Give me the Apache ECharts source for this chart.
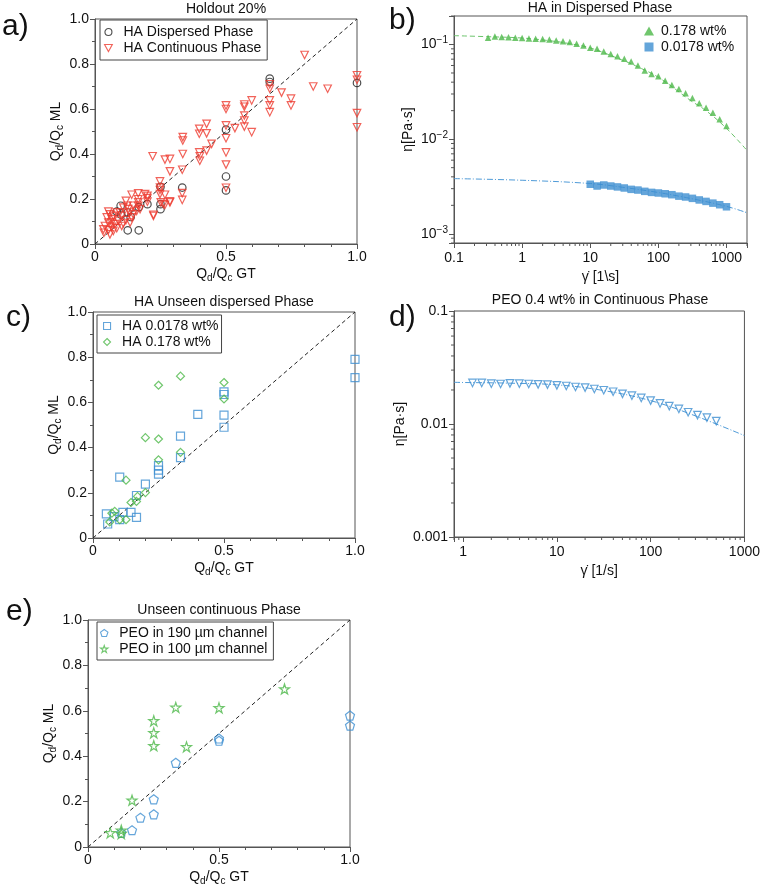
<!DOCTYPE html>
<html><head><meta charset="utf-8">
<script src="https://cdn.jsdelivr.net/npm/echarts@6/dist/echarts.min.js"></script>
<style>html,body{margin:0;padding:0;background:#fff}#c{width:763px;height:888px}</style>
</head><body><div id="c"></div>
<script>
// ---------- Panel a: Holdout 20% ----------
const aDispX = [0.098,0.125,0.167,0.136,0.2,0.25,0.25,0.25,0.333,0.5,0.5,0.5,0.667,0.667,1.0,0.1,0.167,0.083,0.125];
const aDispY = [0.17,0.061,0.061,0.12,0.177,0.254,0.155,0.177,0.251,0.30,0.238,0.508,0.735,0.72,0.716,0.13,0.164,0.144,0.14];
const aContX = [0.80,0.667,0.667,0.712,0.833,0.888,0.748,0.748,0.667,0.667,0.667,0.598,0.57,0.57,0.57,0.57,0.57,0.598,
  0.5,0.5,0.5,0.5,0.5,0.534,0.426,0.426,0.398,0.398,0.445,0.398,0.426,0.335,0.335,0.335,1.0,1.0,1.0,1.0,
  0.22,0.267,0.286,0.286,0.333,0.4,0.4,0.5,0.5,0.333,0.333,0.248,0.286,0.267,0.223,0.2,
  0.248,0.248,0.248,0.267,0.286,0.251,0.261,0.165,0.14,0.191,0.2,0.165,0.165,0.165,0.2,0.223,
  0.118,0.123,0.108,0.095,0.102,0.131,0.14,0.118,0.134,0.146,0.159,0.172,0.051,0.057,0.07,0.083,
  0.064,0.051,0.038,0.032,0.034,0.051,0.064,0.076,0.089,0.102,0.108,0.07,0.057,0.083,0.045,0.064,0.127,0.146];
const aContY = [0.84,0.71,0.69,0.673,0.70,0.69,0.646,0.616,0.638,0.616,0.586,0.638,0.62,0.61,0.571,0.549,0.522,0.497,
  0.616,0.60,0.527,0.47,0.407,0.515,0.534,0.492,0.512,0.49,0.445,0.407,0.415,0.475,0.46,0.40,0.75,0.73,0.582,0.519,
  0.39,0.375,0.378,0.323,0.33,0.39,0.37,0.353,0.25,0.226,0.196,0.24,0.19,0.174,0.13,0.204,
  0.278,0.251,0.222,0.219,0.185,0.185,0.177,0.225,0.219,0.222,0.214,0.199,0.185,0.17,0.188,0.125,
  0.192,0.17,0.162,0.14,0.125,0.14,0.118,0.106,0.095,0.132,0.147,0.155,0.144,0.132,0.125,0.14,
  0.11,0.095,0.08,0.065,0.05,0.061,0.076,0.088,0.103,0.08,0.091,0.058,0.043,0.07,0.118,0.095,0.155,0.17];

// ---------- Panel b: HA in Dispersed Phase ----------
const bRateHigh = [0.316,0.398,0.501,0.631,0.794,1,1.26,1.58,2,2.51,3.16,3.98,5.01,6.31,7.94,10,12.6,15.8,20,25.1,31.6,39.8,50.1,63.1,79.4,100,126,158,200,251,316,398,501,631,794,1000];
const bEtaHigh = [0.118,0.1216,0.12,0.119,0.118,0.117,0.116,0.115,0.114,0.113,0.110,0.108,0.106,0.102,0.0976,0.0922,0.090,0.0843,0.0796,0.0752,0.0705,0.066,0.0599,0.053,0.0489,0.0461,0.0415,0.0373,0.0339,0.0305,0.0272,0.024,0.0215,0.019,0.0162,0.0138];
const bRateLow = [10,12.6,15.8,20,25.1,31.6,39.8,50.1,63.1,79.4,100,126,158,200,251,316,398,501,631,794,1000];
const bEtaLow = [0.00334,0.0032,0.00328,0.0032,0.00313,0.00305,0.00295,0.0029,0.00281,0.00274,0.0027,0.00265,0.00259,0.0025,0.00245,0.00237,0.00228,0.0022,0.00211,0.00203,0.00193];
const bFitHighX = [0.1,0.3,1,3,5,10,30,50,100,300,500,1000,2000];
const bFitHighY = [0.124,0.121,0.117,0.108,0.102,0.092,0.068,0.058,0.045,0.0255,0.020,0.013,0.0076];
const bFitLowX = [0.1,1,10,30,100,300,1000,2000];
const bFitLowY = [0.00383,0.00368,0.0034,0.0031,0.00273,0.00236,0.00195,0.00167];
const bMinorX = [0.2,0.3,0.4,0.5,0.6,0.7,0.8,0.9,2,3,4,5,6,7,8,9,20,30,40,50,60,70,80,90,200,300,400,500,600,700,800,900,2000];
const bMinorY = [0.0008,0.0009,0.002,0.003,0.004,0.005,0.006,0.007,0.008,0.009,0.02,0.03,0.04,0.05,0.06,0.07,0.08,0.09,0.2];

// ---------- Panel c: HA Unseen dispersed Phase ----------
const cLowX = [1.0,1.0,0.5,0.5,0.5,0.5,0.4,0.334,0.334,0.25,0.25,0.25,0.2,0.166,0.166,0.145,0.114,0.102,0.102,0.051,0.056,0.08];
const cLowY = [0.79,0.71,0.647,0.635,0.544,0.49,0.547,0.451,0.356,0.32,0.30,0.283,0.238,0.188,0.091,0.113,0.113,0.269,0.081,0.107,0.062,0.095];
const cHighX = [0.334,0.25,0.5,0.5,0.2,0.25,0.25,0.334,0.126,0.2,0.166,0.145,0.083,0.072,0.102,0.126,0.064,0.17];
const cHighY = [0.716,0.676,0.688,0.615,0.444,0.438,0.346,0.379,0.256,0.201,0.162,0.157,0.118,0.11,0.081,0.081,0.071,0.184];

// ---------- Panel d: PEO 0.4 wt% in Continuous Phase ----------
const dRate = [1.26,1.58,2,2.51,3.16,3.98,5.01,6.31,7.94,10,12.6,15.8,20,25.1,31.6,39.8,50.1,63.1,79.4,100,126,158,200,251,316,398,501];
const dEta = [0.0231,0.0231,0.02275,0.0226,0.0229,0.02275,0.0226,0.02244,0.0223,0.022,0.0217,0.02125,0.021,0.0204,0.0199,0.0193,0.0185,0.0178,0.017,0.0161,0.0152,0.0144,0.0136,0.0127,0.012,0.0114,0.0106];
const dFitX = [0.8,1,3,10,30,100,300,1000];
const dFitY = [0.0234,0.0233,0.023,0.0222,0.0199,0.0161,0.0118,0.0079];
const dMinorX = [0.8,0.9,2,3,4,5,6,7,8,9,20,30,40,50,60,70,80,90,200,300,400,500,600,700,800,900];
const dMinorY = [0.002,0.003,0.004,0.005,0.006,0.007,0.008,0.009,0.02,0.03,0.04,0.05,0.06,0.07,0.08,0.09];

// ---------- Panel e: Unseen continuous Phase ----------
const e190X = [1.0,1.0,0.5,0.5,0.335,0.251,0.251,0.2,0.168,0.127];
const e190Y = [0.579,0.535,0.478,0.468,0.371,0.21,0.144,0.129,0.074,0.062];
const e100X = [0.75,0.335,0.5,0.251,0.251,0.251,0.376,0.168,0.127,0.127,0.085];
const e100Y = [0.696,0.615,0.613,0.556,0.503,0.446,0.441,0.206,0.074,0.059,0.062];

// ---------- labels ----------
const panelLabels = ['a)','b)','c)','d)','e)'];
const titles = ['Holdout 20%','HA in Dispersed Phase','HA Unseen dispersed Phase','PEO 0.4 wt% in Continuous Phase','Unseen continuous Phase'];
const ratioY = 'Q{sub|d}/Q{sub|c} ML';
const ratioX = 'Q{sub|d}/Q{sub|c} GT';

const FONT = '"Liberation Sans", Arial, Helvetica, sans-serif';
const AX = '#555';
const TXT = '#111';
const RED = '#ee3b2f', BLK = '#222', BLUE = '#3d8fd1', GREEN = '#4cb848';
const S_DOWN = 'path://M0,0L10,0L5,9Z';
const S_UP = 'path://M5,0L10,9L0,9Z';
const S_SQ = 'path://M0,0H10V10H0Z';
const S_DIA = 'path://M5,0L10,5L5,10L0,5Z';
const S_PENT = 'path://M5,0L10,3.6L8.1,9.5L1.9,9.5L0,3.6Z';
const S_STAR = 'path://M5,0L6.2,3.6L10,3.6L6.9,5.9L8.1,9.5L5,7.3L1.9,9.5L3.1,5.9L0,3.6L3.8,3.6Z';

const zip = (xs, ys) => xs.map((x, i) => [x, ys[i]]);
const grids = [
  {left: 95, top: 19, width: 262, height: 225},
  {left: 454, top: 16, width: 293, height: 227},
  {left: 93, top: 312, width: 262, height: 226},
  {left: 454, top: 311, width: 293, height: 226},
  {left: 88, top: 620, width: 262, height: 227}
].map(g => Object.assign(g, {show: true, borderColor: AX, borderWidth: 1, backgroundColor: 'transparent'}));

const nameStyle = {color: TXT, fontSize: 14, lineHeight: 18, fontFamily: FONT,
  rich: {sub: {fontSize: 10, lineHeight: 10, verticalAlign: 'bottom', color: TXT, fontFamily: FONT}}};
const common = {
  axisLine: {show: true, lineStyle: {color: AX, width: 1}},
  axisTick: {show: true, inside: false, length: 5, lineStyle: {color: AX}},
  splitLine: {show: false},
  minorSplitLine: {show: false},
  nameLocation: 'middle',
  nameTextStyle: nameStyle
};
const linFmt = v => v === 0 ? '0' : (Math.abs(v - 1) < 1e-9 ? '1.0' : String(+v.toFixed(1)));
function linX(gi, gap) {
  return Object.assign({}, common, {gridIndex: gi, type: 'value', min: 0, max: 1, interval: 0.5,
    minorTick: {show: true, splitNumber: 5, length: 3, lineStyle: {color: AX}},
    axisLabel: {color: TXT, fontSize: 14, fontFamily: FONT, margin: 6, formatter: linFmt},
    name: ratioX, nameGap: gap});
}
function linY(gi, gap) {
  return Object.assign({}, common, {gridIndex: gi, type: 'value', min: 0, max: 1, interval: 0.2,
    minorTick: {show: true, splitNumber: 2, length: 3, lineStyle: {color: AX}},
    axisLabel: {color: TXT, fontSize: 14, fontFamily: FONT, margin: 6, formatter: linFmt},
    name: ratioY, nameGap: gap});
}
const isPow = v => Math.abs(Math.log10(v) - Math.round(Math.log10(v))) < 1e-6;
const plainLog = v => isPow(v) ? String(+v.toPrecision(3)) : '';
const supLog = v => isPow(v) ? '10{sup|\u2212' + (-Math.round(Math.log10(v))) + '}' : '';
function logAxis(gi, min, max, fmt, name, gap) {
  return Object.assign({}, common, {gridIndex: gi, type: 'log', logBase: 10, min: min, max: max,
    axisLabel: {color: TXT, fontSize: 14, fontFamily: FONT, margin: 6, lineHeight: 18, formatter: fmt,
      showMinLabel: true, showMaxLabel: true,
      rich: {sup: {fontSize: 10, lineHeight: 10, verticalAlign: 'top', color: TXT, fontFamily: FONT}}},
    name: name, nameGap: gap,
    nameTextStyle: {color: TXT, fontSize: 14, lineHeight: 18, fontFamily: FONT}});
}
const xAxes = [
  linX(0, 19),
  logAxis(1, 0.1, 2000, plainLog, '\u03B3\u0307 [1\\s]', 22),
  linX(2, 19),
  logAxis(3, 0.8, 1000, plainLog, '\u03B3\u0307 [1/s]', 22),
  linX(4, 21)
];
const yAxes = [
  linY(0, 26),
  logAxis(1, 0.0008, 0.2, supLog, '\u03B7[Pa\u00B7s]', 33),
  linY(2, 27),
  logAxis(3, 0.001, 0.1, plainLog, '\u03B7[Pa\u00B7s]', 32),
  linY(4, 23)
];

function hollow(name, gi, xs, ys, symbol, size, color) {
  return {type: 'scatter', name: name, xAxisIndex: gi, yAxisIndex: gi, data: zip(xs, ys),
    symbol: symbol, symbolSize: size, clip: false, z: 3,
    itemStyle: {color: 'rgba(255,255,255,0)', borderColor: color, borderWidth: 1.2}};
}
function filled(name, gi, xs, ys, symbol, size, color) {
  return {type: 'scatter', name: name, xAxisIndex: gi, yAxisIndex: gi, data: zip(xs, ys),
    symbol: symbol, symbolSize: size, clip: false, z: 3,
    itemStyle: {color: color, borderWidth: 0}};
}
function diag(gi) {
  return {type: 'line', name: 'diag' + gi, xAxisIndex: gi, yAxisIndex: gi, data: [[0, 0], [1, 1]],
    showSymbol: false, silent: true, z: 2, lineStyle: {color: BLK, width: 1, type: [4, 3]}};
}
function fit(name, gi, xs, ys, color, dash) {
  return {type: 'line', name: name, xAxisIndex: gi, yAxisIndex: gi, data: zip(xs, ys),
    showSymbol: false, silent: true, smooth: 0.4, z: 2, lineStyle: {color: color, width: 1, type: dash}};
}
function minorX(gi, vals, yMin) {
  return {type: 'custom', name: 'mx' + gi, xAxisIndex: gi, yAxisIndex: gi, silent: true, clip: false, z: 1,
    data: vals.map(v => [v, yMin]),
    renderItem: (p, api) => { const c = api.coord([api.value(0), api.value(1)]);
      return {type: 'line', shape: {x1: c[0], y1: c[1], x2: c[0], y2: c[1] + 3}, style: {stroke: AX, lineWidth: 1}}; }};
}
function minorY(gi, vals, xMin) {
  return {type: 'custom', name: 'my' + gi, xAxisIndex: gi, yAxisIndex: gi, silent: true, clip: false, z: 1,
    data: vals.map(v => [xMin, v]),
    renderItem: (p, api) => { const c = api.coord([api.value(0), api.value(1)]);
      return {type: 'line', shape: {x1: c[0], y1: c[1], x2: c[0] - 3, y2: c[1]}, style: {stroke: AX, lineWidth: 1}}; }};
}

const series = [
  diag(0),
  hollow('HA Dispersed Phase', 0, aDispX, aDispY, 'circle', 7.5, BLK),
  hollow('HA Continuous Phase', 0, aContX, aContY, S_DOWN, 7.5, RED),
  fit('fitHigh', 1, bFitHighX, bFitHighY, '#6cc46c', [5, 3]),
  fit('fitLow', 1, bFitLowX, bFitLowY, '#4f9bd8', [6, 2, 1, 2]),
  filled('0.178 wt%', 1, bRateHigh, bEtaHigh, S_UP, 6.5, GREEN),
  filled('0.0178 wt%', 1, bRateLow, bEtaLow, S_SQ, 7.5, BLUE),
  minorX(1, bMinorX, 0.0008), minorY(1, bMinorY, 0.1),
  diag(2),
  hollow('HA 0.0178 wt%', 2, cLowX, cLowY, S_SQ, 8, BLUE),
  hollow('HA 0.178 wt%', 2, cHighX, cHighY, S_DIA, 8, GREEN),
  fit('fitD', 3, dFitX, dFitY, '#4f9bd8', [6, 2, 1, 2]),
  hollow('PEO 0.4 wt%', 3, dRate, dEta, S_DOWN, 7.5, BLUE),
  minorX(3, dMinorX, 0.001), minorY(3, dMinorY, 0.8),
  diag(4),
  hollow('PEO in 190 \u00B5m channel', 4, e190X, e190Y, S_PENT, 9, BLUE),
  hollow('PEO in 100 \u00B5m channel', 4, e100X, e100Y, S_STAR, 10, GREEN)
];

const legText = {color: TXT, fontSize: 14, lineHeight: 16, fontFamily: FONT};
const boxLeg = (names, left, top, pad) => ({data: names, orient: 'vertical', left: left, top: top, padding: pad,
  itemGap: 0, itemWidth: 20, itemHeight: 7, borderColor: '#444', borderWidth: 1, selectedMode: false,
  textStyle: legText, itemStyle: {borderWidth: 1.1}});
const legends = [
  boxLeg(['HA Dispersed Phase', 'HA Continuous Phase'], 100, 20, [4, 6, 4, 4]),
  {data: ['0.178 wt%', '0.0178 wt%'], orient: 'vertical', left: 644, top: 23, padding: 0, itemGap: 0,
    itemWidth: 14, itemHeight: 9, selectedMode: false, textStyle: legText},
  boxLeg(['HA 0.0178 wt%', 'HA 0.178 wt%'], 97, 315, [3, 3, 3, 6]),
  boxLeg(['PEO in 190 \u00B5m channel', 'PEO in 100 \u00B5m channel'], 97, 622, [3, 6, 3, 3])
];

const txt = (s, x, y, size, align) => ({type: 'text', x: x, y: y, silent: true,
  style: {text: s, fill: TXT, font: size + 'px ' + FONT, align: align, textAlign: align,
    verticalAlign: 'middle', textVerticalAlign: 'middle'}});
const graphic = [
  txt(panelLabels[0], 2, 27, 30, 'left'),
  txt(panelLabels[1], 389, 21, 30, 'left'),
  txt(panelLabels[2], 6, 318, 30, 'left'),
  txt(panelLabels[3], 389, 318, 30, 'left'),
  txt(panelLabels[4], 6, 612, 30, 'left'),
  txt(titles[0], 226, 9, 14, 'center'),
  txt(titles[1], 600, 8, 14, 'center'),
  txt(titles[2], 224, 302, 14, 'center'),
  txt(titles[3], 600, 300, 14, 'center'),
  txt(titles[4], 219, 610, 14, 'center')
];

const chart = echarts.init(document.getElementById('c'), null, {renderer: 'canvas'});
chart.setOption({
  animation: false,
  backgroundColor: '#fff',
  textStyle: {fontFamily: FONT, color: TXT},
  grid: grids,
  xAxis: xAxes,
  yAxis: yAxes,
  legend: legends,
  series: series,
  graphic: graphic
});
</script></body></html>
